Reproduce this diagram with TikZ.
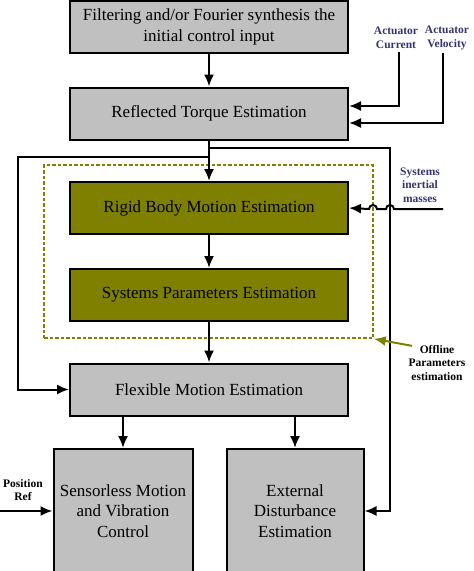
\documentclass[tikz,border=0pt]{standalone}
\usepackage{fontspec}
\setmainfont{Liberation Serif}
\usepackage{tikz}
\usetikzlibrary{positioning}
\usetikzlibrary{arrows.meta}

\definecolor{boxgray}{RGB}{192,192,192}
\definecolor{boxolive}{RGB}{128,128,0}
\definecolor{lblnavy}{RGB}{52,52,112}

\begin{document}
\begin{tikzpicture}[x=1pt, y=-1pt,
		block/.style={rectangle, draw, line width=2pt, fill=boxgray, align=center, inner sep=0pt,
			minimum width=278pt, minimum height=52pt, font=\fontsize{17}{20.5}\selectfont},
		rigidblock/.style={block, fill=boxolive},
		tallblock/.style={block, minimum width=138pt, minimum height=124pt},
		smalllbl/.style={align=center, font=\fontsize{11.5}{13.5}\selectfont\bfseries},
		wire/.style={line width=2pt, -{Latex[length=12pt,width=10pt]}}]
				\useasboundingbox (0,0) rectangle (474,571);
				\clip (0,0) rectangle (474,571);
				
				\node[block] (filt) at (209,27) {Filtering and/or Fourier synthesis the\\initial control input};
				\node[block] (torque) at (209,113.5) {Reflected Torque Estimation};
				\node[rigidblock] (rigid) at (209,208) {Rigid Body Motion Estimation};
				\node[rigidblock] (params) at (209,295) {Systems Parameters Estimation};
				\node[block] (flex) at (209,389.5) {Flexible Motion Estimation};
				\node[tallblock, minimum width=139pt] (sensor) at (123,511) {Sensorless Motion\\and Vibration\\Control};
				\node[tallblock, minimum width=137pt] (dist) at (295,511) {External\\Disturbance\\Estimation};
				
				\node[draw=boxolive, line width=1.6pt, dash pattern=on 3.5pt off 2pt, minimum width=329pt, minimum height=173pt, inner sep=0pt] (offbox) at (208.5,251.5) {};
				
				\node[smalllbl, text=lblnavy] (cur) at (396,38) {Actuator\\Current};
				\node[smalllbl, text=lblnavy] (vel) at (447,38) {Actuator\\Velocity};
				\node[smalllbl, text=lblnavy] (mass) at (420,185) {Systems\\inertial\\masses};
				\node[smalllbl] (off) at (437,363) {Offline\\Parameters\\estimation};
				\node[smalllbl] (pos) at (23,490) {Position\\Ref};
				
				\coordinate (rt) at (390,148);
				\coordinate (lt) at (18,157);
				\coordinate (min) at (443,209);
				\coordinate (pin) at (0,511);
				
				\draw[wire] (filt) -- (torque);
				\draw[wire] (cur.south -| 399,0) |- ([yshift=7.5pt]torque.east);
				\draw[wire] (vel.south -| 443,0) |- ([yshift=-9.5pt]torque.east);
				\draw[wire] (torque.south) -- (rigid.north);
				\draw[wire] (torque.south) |- (rt) |- (dist.east);
				\draw[wire] (torque.south) |- (lt) |- (flex.west);
				\draw[wire] (rigid) -- (params);
				\draw[wire] (params) -- (flex);
				\draw[wire] (flex.south -| sensor.north) -- (sensor.north);
				\draw[wire] (flex.south -| dist.north) -- (dist.north);
				\draw[wire] (pin) -- (sensor.west);
				\draw[wire] (min) -- (394,209) arc[start angle=0, end angle=180, radius=4pt]
					-- (377,209) arc[start angle=0, end angle=180, radius=4pt] -- (rigid.east);
				\draw[wire, draw=boxolive, fill=boxolive] ([shift={(7pt,-4pt)}]off.north west) -- (offbox.south east);
			\end{tikzpicture}
\end{document}
